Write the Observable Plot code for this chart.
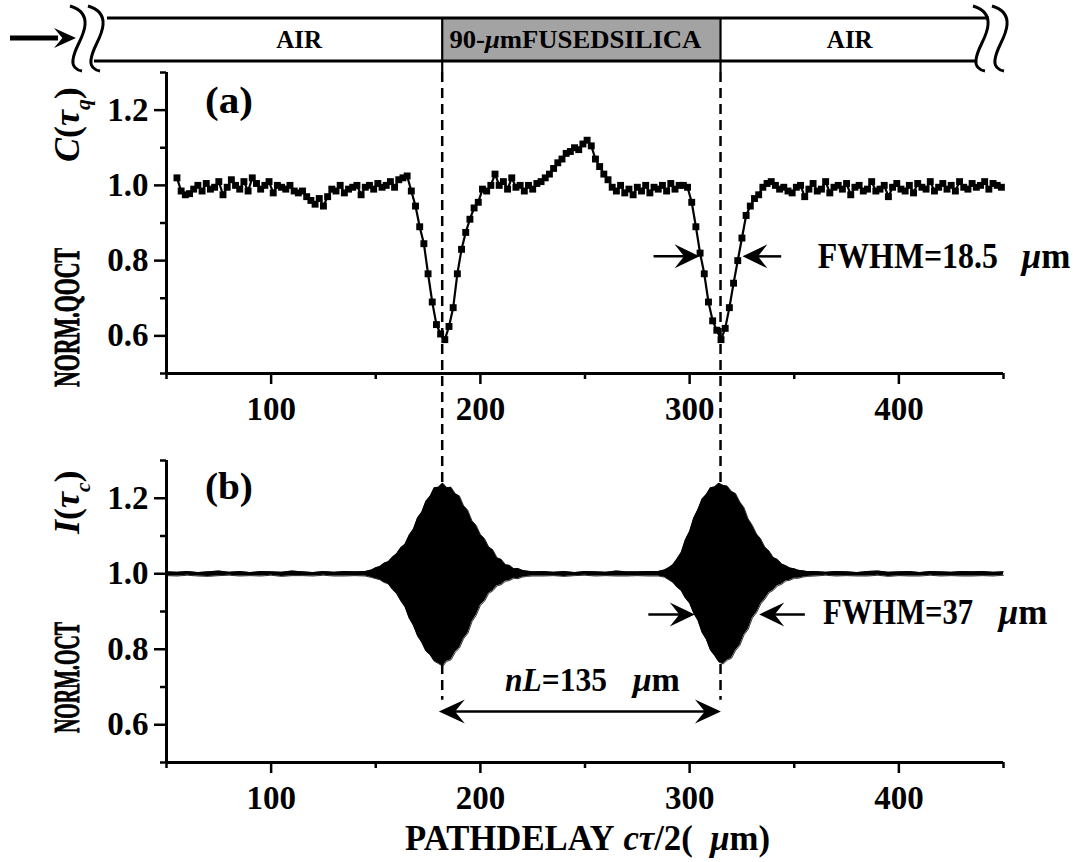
<!DOCTYPE html>
<html><head><meta charset="utf-8">
<script src="https://cdn.jsdelivr.net/npm/d3@7"></script>
<script src="https://cdn.jsdelivr.net/npm/@observablehq/plot@0.6"></script>
<style>
html,body{margin:0;padding:0;background:#fff;}
#wrap{position:relative;width:1073px;height:862px;overflow:hidden;background:#fff;}
#wrap > svg{position:absolute;left:0;}
</style></head><body><div id="wrap"></div>
<script>
// ---------- data ----------
// (a) QOCT signal, sampled every 2 µm from 55 µm
const qoctStart = 55, qoctStep = 2;
const qoctValues = [
  1.02, 0.985, 0.975, 0.978, 0.99, 1.0, 0.985, 1.005, 0.99, 0.995,
  1.01, 0.975, 0.995, 1.015, 1.0, 0.99, 1.01, 0.985, 1.02, 1.005,
  0.99, 1.0, 1.01, 0.98, 1.0, 0.995, 0.99, 1.0, 0.985, 0.98,
  0.985, 0.97, 0.96, 0.95, 0.965, 0.945, 0.97, 0.99, 0.985, 1.0,
  0.98, 0.99, 0.995, 1.0, 0.975, 0.995, 1.0, 0.99, 1.005, 0.995,
  1.0, 1.01, 0.995, 1.015, 1.02, 1.025, 0.985, 0.945, 0.89, 0.845,
  0.765, 0.69, 0.63, 0.605, 0.59, 0.625, 0.675, 0.765, 0.83, 0.875,
  0.91, 0.94, 0.955, 0.99, 0.985, 1.0, 1.03, 1.0, 1.01, 0.99,
  1.02, 0.995, 1.0, 0.985, 1.0, 0.99, 1.005, 1.01, 1.02, 1.03,
  1.045, 1.06, 1.07, 1.085, 1.09, 1.1, 1.095, 1.11, 1.12, 1.105,
  1.07, 1.05, 1.03, 1.015, 0.995, 0.985, 1.0, 0.98, 0.99, 0.975,
  0.995, 0.985, 1.0, 0.98, 0.995, 0.99, 1.0, 0.985, 1.005, 0.99,
  1.0, 1.0, 0.995, 0.955, 0.89, 0.82, 0.765, 0.69, 0.64, 0.615,
  0.59, 0.62, 0.675, 0.74, 0.8, 0.86, 0.92, 0.945, 0.965, 0.975,
  0.995, 1.005, 1.01, 1.0, 0.99, 0.995, 0.985, 0.98, 0.995, 1.0,
  0.97, 0.99, 1.005, 0.985, 0.99, 1.01, 0.98, 0.995, 1.0, 0.99,
  1.005, 0.975, 0.995, 1.0, 0.985, 0.99, 1.01, 0.985, 0.99, 1.0,
  0.97, 0.995, 1.005, 0.99, 0.985, 1.0, 0.98, 1.005, 0.995, 0.99,
  1.01, 0.985, 0.995, 1.005, 0.99, 1.0, 0.985, 1.01, 0.995, 0.99,
  1.005, 0.995, 1.0, 1.01, 0.99, 1.005, 1.0, 0.995
];
// (b) OCT interferogram envelope (upper / lower edge of the black fringe band)
const octX = [
  50,55,60,65,70,75,80,85,90,95,100,105,110,115,120,125,130,135,140,145,
  148,150,152,154,156,158,160,162,164,166,168,170,172,174,176,178,180,182,184,186,
  188,190,192,194,196,198,200,202,204,206,208,210,212,214,216,218,220,222,
  225,230,235,240,245,250,255,260,265,270,275,280,285,
  288,290,292,294,296,298,300,302,304,306,308,310,312,314,316,318,320,322,324,326,
  328,330,332,334,336,338,340,342,344,346,348,350,352,354,356,
  360,365,370,375,380,385,390,395,400,405,410,415,420,425,430,435,440,445,450
];
const octUpper = [
  1.005,1.004,1.006,1.003,1.005,1.007,1.004,1.006,1.003,1.006,1.005,1.004,1.007,1.005,1.003,1.006,1.004,1.006,1.005,1.006,
  1.01,1.016,1.019,1.028,1.032,1.044,1.053,1.069,1.078,1.102,1.118,1.148,1.163,1.192,1.205,1.228,1.229,1.24,1.228,1.229,
  1.212,1.206,1.18,1.168,1.14,1.128,1.104,1.093,1.071,1.063,1.042,1.038,1.024,1.022,1.013,1.014,1.009,1.007,
  1.005,1.006,1.004,1.006,1.003,1.006,1.005,1.004,1.007,1.005,1.005,1.006,1.006,
  1.01,1.016,1.024,1.039,1.056,1.09,1.112,1.148,1.17,1.198,1.21,1.228,1.23,1.24,1.234,1.232,1.218,1.212,1.19,1.175,
  1.145,1.128,1.105,1.092,1.07,1.06,1.043,1.038,1.026,1.021,1.015,1.013,1.009,1.008,1.006,
  1.006,1.004,1.006,1.005,1.003,1.006,1.007,1.004,1.005,1.006,1.003,1.006,1.005,1.004,1.006,1.005,1.006,1.004,1.005
];
const octLower = [
  0.995,0.994,0.996,0.994,0.993,0.995,0.996,0.994,0.995,0.994,0.996,0.993,0.995,0.995,0.994,0.996,0.994,0.994,0.995,0.994,
  0.99,0.987,0.984,0.977,0.973,0.958,0.947,0.928,0.912,0.882,0.863,0.835,0.818,0.795,0.785,0.768,0.762,0.755,0.768,0.772,
  0.792,0.803,0.828,0.842,0.873,0.89,0.916,0.927,0.948,0.955,0.968,0.971,0.98,0.982,0.988,0.987,0.991,0.993,
  0.994,0.994,0.995,0.993,0.995,0.996,0.994,0.995,0.994,0.994,0.995,0.994,0.994,
  0.991,0.984,0.977,0.964,0.955,0.935,0.922,0.895,0.876,0.844,0.826,0.797,0.783,0.766,0.761,0.771,0.776,0.797,0.81,0.838,
  0.853,0.883,0.897,0.92,0.933,0.95,0.956,0.968,0.972,0.981,0.983,0.988,0.988,0.991,0.993,
  0.994,0.996,0.994,0.995,0.994,0.994,0.996,0.993,0.995,0.994,0.994,0.996,0.994,0.995,0.994,0.994,0.995,0.994,0.996
];
const xDomain = [50, 450];
const yDomain = [0.5, 1.3];
const xMajorTicks = [100, 200, 300, 400];
const xMinorTicks = [50, 150, 250, 350, 450];
const yMajorTicks = [0.6, 0.8, 1.0, 1.2];
const yMinorTicks = [0.5, 0.7, 0.9, 1.1, 1.3];
const interfaces = [182, 315];          // sample surfaces (µm)
const bannerRegions = [
  {label: [{t: "AIR"}], x1: 50, x2: 182, fill: "white"},
  {label: [{t: "90-"}, {t: "\u03bc", i: true}, {t: "mFUSEDSILICA"}], x1: 182, x2: 315, fill: "#a3a3a3"},
  {label: [{t: "AIR"}], x1: 315, x2: 450, fill: "white"}
];
const fwhmA = {y: 0.81, arrows: [{tail: 283, tip: 305}, {tail: 344, tip: 325.5}], textX: 361.5, unitX: 459, textY: 0.779,
  text: [{t: "FWHM=18.5"}], unit: [{t: "\u03bc", i: true}, {t: "m"}]};
const fwhmB = {y: 0.891, arrows: [{tail: 280.5, tip: 302.7}, {tail: 355.3, tip: 333.5}], textX: 364, unitX: 448, textY: 0.865,
  text: [{t: "FWHM=37"}], unit: [{t: "\u03bc", i: true}, {t: "m"}]};
const nL = {y: 0.634, from: 180.4, to: 315.2, textX: 212, unitX: 273, textY: 0.687,
  text: [{t: "nL", i: true}, {t: "=135"}], unit: [{t: "\u03bc", i: true}, {t: "m"}]};

// ---------- build ----------
const FONT = "Liberation Serif, Times New Roman, serif";
const qoct = qoctValues.map((v, i) => ({x: qoctStart + i * qoctStep, y: v}));
const oct = octX.map((x, i) => ({x, hi: octUpper[i], lo: octLower[i]}));

function axes() {
  return [
    Plot.axisX({ticks: xMajorTicks, tickSize: 11, tickPadding: 12, fontSize: 33, strokeWidth: 2.5, tickFormat: d => String(d), label: null}),
    Plot.axisX({ticks: xMinorTicks, tickSize: 6, strokeWidth: 2.5, tickFormat: () => "", label: null}),
    Plot.axisY({ticks: yMajorTicks, tickSize: 12, tickPadding: 6, fontSize: 33, strokeWidth: 2.5, tickFormat: d3.format(".1f"), label: null}),
    Plot.axisY({ticks: yMinorTicks, tickSize: 6, strokeWidth: 2.5, tickFormat: () => "", label: null}),
    Plot.ruleX([xDomain[0]], {strokeWidth: 3}),
    Plot.ruleY([yDomain[0]], {strokeWidth: 3})
  ];
}
const common = {
  width: 1073, marginLeft: 166, marginRight: 70,
  x: {domain: xDomain}, y: {domain: yDomain},
  style: {fontFamily: FONT, fontWeight: "bold", background: "transparent", overflow: "visible", color: "black"}
};
const plotA = Plot.plot({...common, height: 430, marginTop: 72, marginBottom: 57,
  marks: [
    Plot.line(qoct, {x: "x", y: "y", stroke: "black", strokeWidth: 2.2}),
    Plot.dot(qoct, {x: "x", y: "y", symbol: "square", r: 3.9, fill: "black", stroke: "none"}),
    ...axes()
  ]});
const plotB = Plot.plot({...common, height: 432, marginTop: 30, marginBottom: 100,
  marks: [
    Plot.areaY(oct, {x: "x", y1: "lo", y2: "hi", fill: "black"}),
    Plot.line(oct, {x: "x", y: "hi", stroke: "black", strokeWidth: 0.8}),
    Plot.line(oct, {x: "x", y: "lo", stroke: "black", strokeWidth: 0.8}),
    ...axes()
  ]});
const wrap = document.getElementById("wrap");
plotA.style.top = "0px";
plotB.style.top = "430px";
wrap.appendChild(plotA);
wrap.appendChild(plotB);

const X = v => plotA.scale("x").apply(v);
const YA = v => plotA.scale("y").apply(v);
const YB = v => plotB.scale("y").apply(v) + 430;

const ov = d3.select(wrap).append("svg").attr("width", 1073).attr("height", 862).style("top", "0px");

function richText(parent, parts, {x, y, size, anchor = "start", rotate = 0, length = null, heavy = false}) {
  const t = parent.append("text").attr("font-family", FONT).attr("font-weight", "bold")
    .attr("font-size", size).attr("text-anchor", anchor).attr("fill", "black")
    .attr("transform", `translate(${x},${y}) rotate(${rotate})`);
  if (heavy) t.attr("stroke", "black").attr("stroke-width", 0.9);
  if (length) t.attr("textLength", length).attr("lengthAdjust", "spacingAndGlyphs");
  let shift = 0;
  for (const p of parts) {
    const s = t.append("tspan").text(p.t);
    if (p.i) s.attr("font-style", "italic");
    const want = p.sub ? size * 0.3 : 0;
    if (want !== shift) { s.attr("dy", want - shift); shift = want; }
    if (p.sub) s.attr("font-size", size * 0.6);
  }
  return t;
}
function head(g, tipX, tipY, dir, L = 25, H = 12) {
  const b = tipX - dir * L, n = tipX - dir * L * 0.62;
  g.append("path").attr("d", `M${tipX},${tipY}L${b},${tipY - H}L${n},${tipY}L${b},${tipY + H}Z`).attr("fill", "black");
}
function arrow(g, tail, tip, y) {
  const dir = tip > tail ? 1 : -1;
  g.append("line").attr("x1", tail).attr("x2", tip - dir * 10).attr("y1", y).attr("y2", y)
    .attr("stroke", "black").attr("stroke-width", 2.5);
  head(g, tip, y, dir);
}

const fl = X(xDomain[0]), fr = X(xDomain[1]);
// banner
const bTop = 18, bBot = 61;
const ban = ov.append("g");
ban.append("rect").attr("x", X(bannerRegions[1].x1)).attr("width", X(bannerRegions[1].x2) - X(bannerRegions[1].x1))
  .attr("y", bTop).attr("height", bBot - bTop).attr("fill", bannerRegions[1].fill);
ban.append("line").attr("x1", fl - 59).attr("x2", fr - 14).attr("y1", bTop).attr("y2", bTop).attr("stroke", "black").attr("stroke-width", 2.8);
ban.append("line").attr("x1", fl - 72).attr("x2", fr - 26).attr("y1", bBot).attr("y2", bBot).attr("stroke", "black").attr("stroke-width", 2.8);
for (const v of interfaces) {
  ban.append("line").attr("x1", X(v)).attr("x2", X(v)).attr("y1", bTop).attr("y2", 72).attr("stroke", "black").attr("stroke-width", 2.2);
}
const brk = x0 => `M${x0},6 C${x0 + 10},9 ${x0 + 16},15 ${x0 + 15},25 C${x0 + 14},38 ${x0 + 4},48 ${x0 + 3},60 C${x0 + 2},66 ${x0 + 6},70 ${x0 + 12},71`;
for (const x0 of [fl - 96, fl - 78, fr - 30, fr - 11]) {
  ban.append("path").attr("d", brk(x0)).attr("fill", "none").attr("stroke", "black").attr("stroke-width", 3);
}
// incoming beam arrow
ban.append("line").attr("x1", 10).attr("x2", 58).attr("y1", 38).attr("y2", 38).attr("stroke", "black").attr("stroke-width", 5);
head(ban, 76, 38, 1, 22, 10);
for (const r of bannerRegions) {
  const left = Math.max(X(r.x1), fl - 59), right = Math.min(X(r.x2), fr - 14);
  const isSilica = r.fill !== "white";
  richText(ban, r.label, {x: (left + right) / 2 + (isSilica ? -6 : -5), y: 48, size: 25, anchor: "middle", length: isSilica ? 252 : null});
}
// dashed interface lines
for (const v of interfaces) {
  ov.append("line").attr("x1", X(v)).attr("x2", X(v)).attr("y1", 72).attr("y2", YB(0.665))
    .attr("stroke", "black").attr("stroke-width", 2.5).attr("stroke-dasharray", "10,6");
}
// panel labels
richText(ov, [{t: "(a)"}], {x: X(68.6), y: YA(1.19), size: 38, length: 48});
richText(ov, [{t: "(b)"}], {x: X(68.6), y: YB(1.196), size: 38, length: 48});
// FWHM annotations
for (const a of fwhmA.arrows) arrow(ov, X(a.tail), X(a.tip), YA(fwhmA.y));
richText(ov, fwhmA.text, {x: X(fwhmA.textX), y: YA(fwhmA.textY), size: 35, length: 180});
richText(ov, fwhmA.unit, {x: X(fwhmA.unitX), y: YA(fwhmA.textY), size: 35});
for (const a of fwhmB.arrows) arrow(ov, X(a.tail), X(a.tip), YB(fwhmB.y));
richText(ov, fwhmB.text, {x: X(fwhmB.textX), y: YB(fwhmB.textY), size: 35, length: 150});
richText(ov, fwhmB.unit, {x: X(fwhmB.unitX), y: YB(fwhmB.textY), size: 35});
// nL double arrow
{
  const y = YB(nL.y), a = X(nL.from), b = X(nL.to);
  ov.append("line").attr("x1", a + 10).attr("x2", b - 10).attr("y1", y).attr("y2", y).attr("stroke", "black").attr("stroke-width", 2.5);
  head(ov, a, y, -1, 26, 12);
  head(ov, b, y, 1, 26, 12);
  richText(ov, nL.text, {x: X(nL.textX), y: YB(nL.textY), size: 34, length: 102});
  richText(ov, nL.unit, {x: X(nL.unitX), y: YB(nL.textY), size: 34});
}
// axis titles
richText(ov, [{t: "NORM.QOCT"}], {x: fl - 87, y: YA(0.5) + 14, size: 36, rotate: -90, length: 139, heavy: true});
richText(ov, [{t: "C", i: true}, {t: "("}, {t: "\u03c4", i: true}, {t: "q", i: true, sub: true}, {t: ")"}],
  {x: fl - 87, y: 162, size: 36, rotate: -90});
richText(ov, [{t: "NORM.OCT"}], {x: fl - 87, y: YB(0.5) - 29, size: 36, rotate: -90, length: 111, heavy: true});
richText(ov, [{t: "I", i: true}, {t: "("}, {t: "\u03c4", i: true}, {t: "c", i: true, sub: true}, {t: ")"}],
  {x: fl - 87, y: 534, size: 36, rotate: -90});
richText(ov, [{t: "PATHDELAY\u00a0"}, {t: "c\u03c4", i: true}, {t: "/2(\u00a0\u00a0"}, {t: "\u03bc", i: true}, {t: "m)"}],
  {x: (fl + fr) / 2 + 3, y: 850, size: 35, anchor: "middle", length: 365});
</script></body></html>
